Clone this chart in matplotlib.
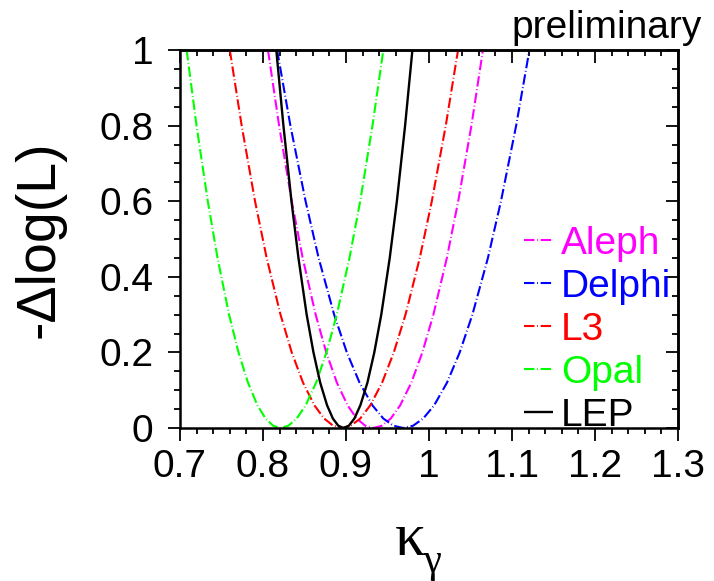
import matplotlib
matplotlib.use("Agg")
import matplotlib.pyplot as plt
from matplotlib.ticker import MultipleLocator

plt.rcParams["font.family"] = ["Liberation Sans", "DejaVu Sans"]

# -Delta log(L) sampling levels (left branch top -> minimum -> right branch top)
delta = [1.0, 0.8, 0.6, 0.45, 0.3, 0.2, 0.12, 0.06, 0.025, 0.006, 0.0,
         0.006, 0.025, 0.06, 0.12, 0.2, 0.3, 0.45, 0.6, 0.8, 1.0]

# kappa_gamma values of each likelihood curve at those levels
kappa_aleph = [0.806, 0.8194, 0.8346, 0.8478, 0.8634, 0.8762, 0.889, 0.9019, 0.9129, 0.9232, 0.933,
               0.9432, 0.9539, 0.9653, 0.9787, 0.992, 1.0053, 1.0215, 1.0352, 1.0511, 1.065]
kappa_delphi = [0.817, 0.833, 0.8513, 0.867, 0.8857, 0.901, 0.9163, 0.9318, 0.945, 0.9572, 0.969,
                0.9808, 0.993, 1.0062, 1.0217, 1.037, 1.0523, 1.071, 1.0867, 1.105, 1.121]
kappa_l3 = [0.760, 0.7743, 0.7904, 0.8044, 0.8211, 0.8346, 0.8482, 0.8619, 0.8737, 0.8845, 0.895,
            0.9059, 0.9171, 0.9293, 0.9435, 0.9576, 0.9717, 0.9889, 1.0034, 1.0202, 1.035]
kappa_opal = [0.708, 0.7199, 0.7335, 0.7452, 0.7591, 0.7705, 0.7819, 0.7933, 0.8031, 0.8122, 0.821,
              0.8306, 0.8406, 0.8514, 0.864, 0.8765, 0.8889, 0.9042, 0.9171, 0.9319, 0.945]
kappa_lep = [0.816, 0.8246, 0.8343, 0.8427, 0.8526, 0.8608, 0.8689, 0.8772, 0.8842, 0.8907, 0.897,
             0.9034, 0.9101, 0.9173, 0.9258, 0.9341, 0.9425, 0.9527, 0.9613, 0.9712, 0.980]

labels = ["Aleph", "Delphi", "L3", "Opal", "LEP"]
colors = ["#ff00ff", "#0000ff", "#ff0000", "#00ff00", "#000000"]
curves = [kappa_aleph, kappa_delphi, kappa_l3, kappa_opal, kappa_lep]

xticks = [0.7, 0.8, 0.9, 1.0, 1.1, 1.2, 1.3]
xticklabels = ["0.7", "0.8", "0.9", "1", "1.1", "1.2", "1.3"]
yticks = [0.0, 0.2, 0.4, 0.6, 0.8, 1.0]
yticklabels = ["0", "0.2", "0.4", "0.6", "0.8", "1"]

fig = plt.figure(figsize=(7.14, 5.81), dpi=100)
ax = fig.add_axes([180 / 714, 1 - 428 / 581, 498 / 714, 378 / 581])

for kap, lab, col in zip(curves, labels, colors):
    if lab == "LEP":
        ax.plot(kap, delta, color=col, lw=1.7, label=lab, solid_capstyle="butt")
    else:
        ln, = ax.plot(kap, delta, color=col, lw=1.5, label=lab)
        ln.set_dashes((5.0, 1.3, 0.4, 1.3))

ax.set_xlim(0.7, 1.3)
ax.set_ylim(0.0, 1.0)
ax.set_xticks(xticks)
ax.set_xticklabels(xticklabels)
ax.set_yticks(yticks)
ax.set_yticklabels(yticklabels)
ax.xaxis.set_minor_locator(MultipleLocator(0.02))
ax.yaxis.set_minor_locator(MultipleLocator(0.05))
ax.tick_params(which="both", direction="out", labelsize=28, width=1.3, color="black")
ax.tick_params(which="major", length=9)
ax.tick_params(axis="x", which="major", pad=6)
ax.tick_params(axis="y", which="major", pad=10)
ax.tick_params(which="minor", length=4.5)
for sp in ax.spines.values():
    sp.set_linewidth(1.8)

# mirrored ticks pointing inward on top and right
top = ax.secondary_xaxis("top")
top.set_xticks(xticks)
top.xaxis.set_minor_locator(MultipleLocator(0.02))
top.tick_params(which="both", direction="in", labeltop=False, width=1.3)
top.tick_params(which="major", length=9)
top.tick_params(which="minor", length=4.5)
top.spines["top"].set_linewidth(1.8)
right = ax.secondary_yaxis("right")
right.set_yticks(yticks)
right.yaxis.set_minor_locator(MultipleLocator(0.05))
right.tick_params(which="both", direction="in", labelright=False, width=1.3)
right.tick_params(which="major", length=9)
right.tick_params(which="minor", length=4.5)
right.spines["right"].set_linewidth(1.8)

fig.text(40 / 714, 1 - 239 / 581, "-\u0394log(L)", rotation=90, fontsize=40,
         ha="center", va="center")
# axis title: kappa with gamma subscript in a serif face
fig.text(395 / 714, 1 - 555 / 581, "\u03ba", fontsize=44,
         family=["Liberation Serif", "DejaVu Serif"], ha="left", va="baseline")
fig.text(424 / 714, 1 - 572 / 581, "\u03b3", fontsize=29,
         family=["Liberation Serif", "DejaVu Serif"], ha="left", va="baseline")
fig.text(702 / 714, 1 - 38 / 581, "preliminary", fontsize=28, ha="right",
         va="baseline")

leg = fig.legend(loc="upper left", bbox_to_anchor=(524 / 714, 1 - 226 / 581),
                 frameon=False, fontsize=28, handlelength=0.75, handletextpad=0.2,
                 labelspacing=0.18, borderpad=0, borderaxespad=0,
                 labelcolor="linecolor")

fig.savefig("out.png", dpi=100)
